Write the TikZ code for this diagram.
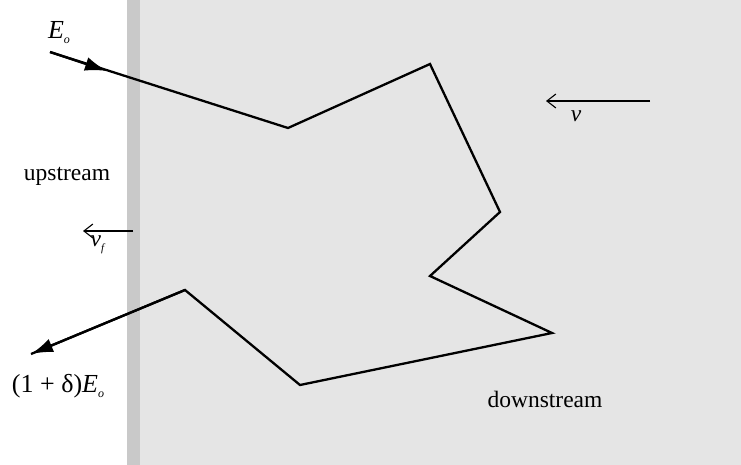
\documentclass[tikz,border=0pt]{standalone}
\usepackage{fontspec}
\setmainfont{Liberation Serif}
\usetikzlibrary{arrows.meta}
\definecolor{lightbg}{gray}{0.9}
\definecolor{wallc}{gray}{0.79}
\tikzset{
  pathline/.style={line width=2.3pt, black},
  thinarrow/.style={line width=1.1pt, -{Straight Barb[length=9pt,width=14pt,line width=1.1pt]}},
  lbl/.style={inner sep=0pt, font=\fontsize{23.5}{27}\selectfont},
  biglbl/.style={inner sep=0pt, font=\fontsize{26}{30}\selectfont},
}
\newcommand{\Ezero}{\textit{E}\kern0pt\raisebox{-5pt}{\fontsize{12}{14}\selectfont\textit{o}}}
\begin{document}
\begin{tikzpicture}[x=1pt,y=-1pt]
\useasboundingbox (0,0) rectangle (741,465);
\fill[lightbg] (127,0) rectangle (741,465);
\fill[wallc] (127,0) rectangle (140,465);
% path vertices
\coordinate (s) at (50,52);
\coordinate (m) at (107,71);
\coordinate (p1) at (288,128);
\coordinate (p2) at (430,64);
\coordinate (p3) at (500,212);
\coordinate (p4) at (430,276);
\coordinate (p5) at (552,333);
\coordinate (p6) at (300,385);
\coordinate (p7) at (185,290);
\coordinate (e) at (31,354);
\draw[pathline, line join=miter] (s) -- (p1) -- (p2) -- (p3) -- (p4) -- (p5) -- (p6) -- (p7) -- (e);
\draw[pathline, -{Latex[length=22pt,width=14pt]}] (s) -- (m);
\draw[pathline, -{Latex[length=22pt,width=14pt]}] (p7) -- (e);
% velocity arrows
\coordinate (va) at (650,101);
\coordinate (vb) at (546,101);
\draw[thinarrow] (va) -- (vb);
\coordinate (vfa) at (133,231);
\coordinate (vfb) at (83,231);
\draw[thinarrow] (vfa) -- (vfb);
% labels
\node[biglbl] (lE) at (59,33) {\Ezero};
\node[lbl] (lv) at (576,116) {\textit{v}};
\node[lbl] (lvf) at (98,245) {\textit{v}\kern0pt\raisebox{-5pt}{\fontsize{11}{13}\selectfont\textit{f}}};
\node[lbl] (lup) at (67,176) {upstream};
\node[lbl] (ld) at (545,399) {downstream};
\node[biglbl] (ld2) at (58,386) {(1 + δ)\Ezero};
\end{tikzpicture}
\end{document}
